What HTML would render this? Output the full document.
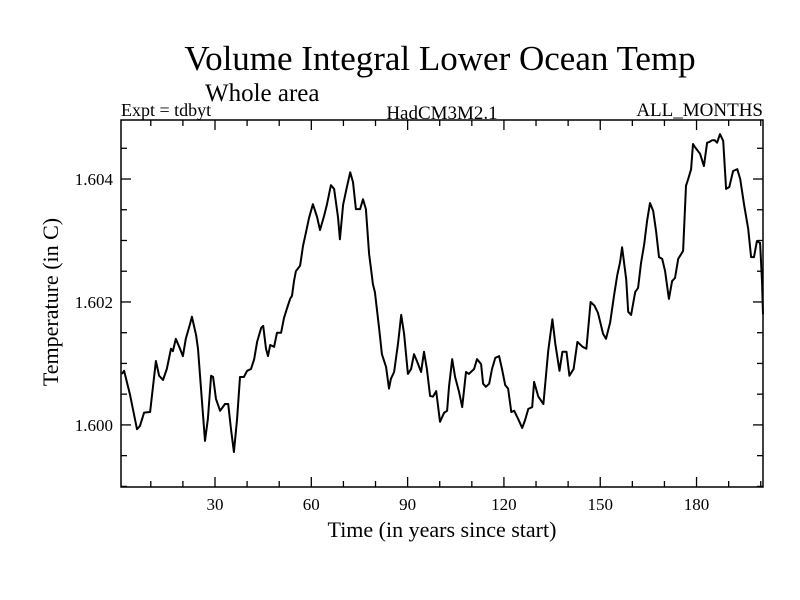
<!DOCTYPE html>
<html><head><meta charset="utf-8"><style>
html,body{margin:0;padding:0;background:#fff;}
svg{display:block;font-family:"Liberation Serif",serif;}
</style></head><body>
<svg id="chart" width="800" height="600" viewBox="0 0 800 600">
<text x="440" y="70" font-size="35" text-anchor="middle">Volume Integral Lower Ocean Temp</text>
<text x="205" y="101" font-size="25">Whole area</text>
<text x="121" y="116" font-size="18">Expt = tdbyt</text>
<text x="442" y="119" font-size="19" text-anchor="middle">HadCM3M2.1</text>
<text x="763" y="116" font-size="19" text-anchor="end">ALL_MONTHS</text>
<text x="442" y="537" font-size="22" text-anchor="middle">Time (in years since start)</text>
<text transform="translate(58,302) rotate(-90)" font-size="22" text-anchor="middle">Temperature (in C)</text>
<g id="axes"></g>
<path id="line" fill="none" stroke="#000" stroke-width="2" stroke-linejoin="round"/>
<rect x="121" y="120" width="642" height="367" fill="none" stroke="#000" stroke-width="1.5"/>
</svg>
<script>
const years = [1.0,1.7,3.5,5.7,6.6,7.9,9.8,11.6,12.6,13.8,15.0,16.3,16.9,17.8,19.1,20.0,20.9,22.2,22.8,24.1,24.7,25.9,26.9,27.8,28.8,29.4,30.3,31.6,33.1,34.1,35.0,35.9,36.9,37.8,39.0,40.0,41.2,42.2,43.1,44.4,45.0,45.9,46.5,47.2,48.4,49.3,50.6,51.5,52.4,53.4,54.0,54.6,55.2,56.5,57.4,58.4,59.3,60.5,61.8,62.7,64.0,64.9,66.1,67.1,68.3,68.9,69.9,71.1,72.1,73.0,73.9,75.2,76.1,77.0,78.0,78.6,79.2,79.8,81.1,82.0,83.3,84.2,84.8,85.8,87.0,88.0,88.9,90.1,91.1,92.0,92.9,94.2,95.1,96.0,97.0,97.9,98.9,100.1,101.4,102.3,102.9,103.9,104.8,106.0,107.0,108.2,109.1,110.7,111.6,112.9,113.5,114.4,115.4,116.3,117.3,118.5,119.4,120.4,121.3,122.3,123.2,124.4,125.7,126.6,127.6,128.8,129.4,130.7,132.3,133.8,135.1,136.0,137.3,138.2,139.5,140.4,141.7,142.9,144.5,145.7,147.0,148.2,149.3,150.9,151.8,153.1,154.3,155.3,156.2,156.8,158.1,158.7,159.6,160.9,161.8,162.7,163.7,164.6,165.5,166.5,167.4,168.3,169.3,170.2,171.4,172.4,173.3,174.3,175.8,176.7,177.4,178.3,178.9,179.5,181.1,182.3,183.3,183.9,184.8,185.7,186.4,187.3,188.3,189.2,190.2,191.4,192.7,193.6,194.8,196.1,197.0,197.9,198.8,199.8,200.4,200.7];
const temps = [1.60083,1.60088,1.60050,1.59993,1.59998,1.60020,1.60021,1.60104,1.60080,1.60073,1.60091,1.60124,1.60120,1.60140,1.60124,1.60112,1.60140,1.60164,1.60176,1.60146,1.60124,1.60042,1.59974,1.60010,1.60080,1.60078,1.60042,1.60023,1.60034,1.60034,1.59993,1.59956,1.60010,1.60078,1.60078,1.60088,1.60091,1.60107,1.60135,1.60158,1.60161,1.60124,1.60112,1.60130,1.60127,1.60150,1.60150,1.60174,1.60189,1.60205,1.60210,1.60234,1.60250,1.60259,1.60291,1.60315,1.60337,1.60359,1.60338,1.60317,1.60340,1.60359,1.60390,1.60384,1.60338,1.60302,1.60358,1.60387,1.60411,1.60395,1.60351,1.60351,1.60367,1.60351,1.60278,1.60254,1.60229,1.60216,1.60159,1.60115,1.60094,1.60059,1.60075,1.60086,1.60132,1.60179,1.60148,1.60083,1.60091,1.60115,1.60104,1.60086,1.60119,1.60091,1.60047,1.60046,1.60055,1.60005,1.60020,1.60023,1.60062,1.60107,1.60078,1.60054,1.60029,1.60086,1.60083,1.60091,1.60107,1.60099,1.60067,1.60062,1.60067,1.60091,1.60109,1.60112,1.60091,1.60065,1.60059,1.60021,1.60023,1.60010,1.59995,1.60008,1.60026,1.60029,1.60070,1.60046,1.60034,1.60120,1.60172,1.60132,1.60088,1.60119,1.60119,1.60080,1.60091,1.60135,1.60127,1.60124,1.60200,1.60194,1.60182,1.60148,1.60140,1.60167,1.60210,1.60244,1.60265,1.60289,1.60237,1.60184,1.60179,1.60216,1.60223,1.60263,1.60294,1.60332,1.60361,1.60348,1.60315,1.60273,1.60270,1.60250,1.60205,1.60234,1.60239,1.60270,1.60283,1.60389,1.60400,1.60416,1.60457,1.60452,1.60441,1.60421,1.60459,1.60460,1.60463,1.60463,1.60459,1.60473,1.60462,1.60384,1.60387,1.60413,1.60416,1.60400,1.60358,1.60319,1.60273,1.60273,1.60299,1.60296,1.60234,1.60180];
const xTickLabels = ["30","60","90","120","150","180"];
const yTickLabels = ["1.600","1.602","1.604"];

const L=121,R=763,T=120,B=487;
const xMin=0.72, xMax=200.7, yMin=1.59899, yMax=1.60496;
const xs = v => L + (v-xMin)/(xMax-xMin)*(R-L);
const ys = v => B - (v-yMin)/(yMax-yMin)*(B-T);
const NS="http://www.w3.org/2000/svg";
const ax=document.getElementById('axes');
function ln(x1,y1,x2,y2,name){const e=document.createElementNS(NS,'line');e.setAttribute('x1',x1);e.setAttribute('y1',y1);e.setAttribute('x2',x2);e.setAttribute('y2',y2);e.setAttribute('stroke','#000');e.setAttribute('stroke-width','1.3');


ax.appendChild(e);}
function tx(x,y,s,anchor,name){const e=document.createElementNS(NS,'text');e.setAttribute('x',x);e.setAttribute('y',y);e.setAttribute('font-size','17');e.setAttribute('text-anchor',anchor);e.textContent=s;


ax.appendChild(e);}
for(let v=10;v<=200;v+=10){const x=xs(v);const major=v%30===0;const len=major?10:6;
ln(x,B,x,B-len,'x-tick');ln(x,T,x,T+len,'x-tick-top');}
xTickLabels.forEach(s=>{tx(xs(+s),510,s,'middle','x-tick-label');});
for(let k=0;k<=12;k++){const v=1.599+k*0.0005;if(v<yMin||v>yMax)continue;const y=ys(v);const major=Math.abs((v-1.6)/0.002-Math.round((v-1.6)/0.002))<1e-6;const len=major?10:6;
ln(L,y,L+len,y,'y-tick');ln(R,y,R-len,y,'y-tick-right');}
yTickLabels.forEach(s=>{tx(113,ys(+s)+6,s,'end','y-tick-label');});
let d='';years.forEach((y,i)=>{d+=(i?'L':'M')+xs(y).toFixed(1)+','+ys(temps[i]).toFixed(1);});
document.getElementById('line').setAttribute('d',d);
</script>
</body></html>
